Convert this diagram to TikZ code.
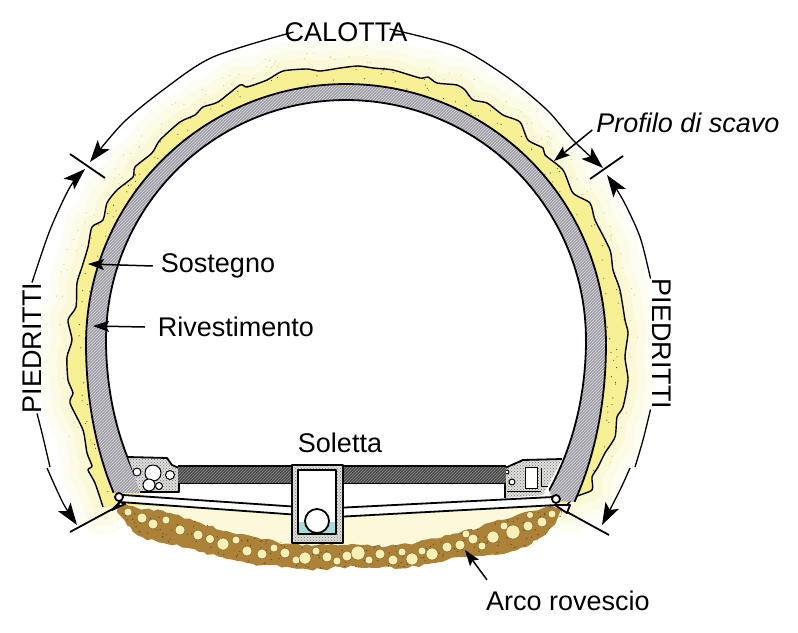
\documentclass[tikz,border=0pt]{standalone}
\usepackage{fontspec}
\setmainfont{Liberation Sans}
\usetikzlibrary{arrows.meta,patterns,decorations.pathmorphing}
\definecolor{haloYellow}{HTML}{F7F2A8}
\definecolor{paleYellow}{HTML}{FCF9DA}
\definecolor{liningYellow}{HTML}{F6EF94}
\definecolor{liningGrey}{HTML}{9F9DA6}
\definecolor{slabGrey}{HTML}{4A4A4A}
\definecolor{curbGrey}{HTML}{DEDEDA}
\definecolor{rockBrown}{HTML}{AC8238}
\definecolor{rockPale}{HTML}{F8EFB4}
\definecolor{waterBlue}{HTML}{A8DCD8}
\newcommand{\yellowEdge}{plot[smooth,tension=0.4] coordinates {(103,507) (95,483) (88,470) (92,466) (87,453) (83,430) (70,403) (73,393) (68,380) (67,357) (72,340) (68,320) (76,307) (77,283) (82,267) (88,247) (92,227) (103,220) (107,203) (117,190) (133,177) (135,167) (152,153) (160,140) (180,122) (195,115) (203,107) (218,102) (240,85) (247,87) (267,80) (283,71) (307,69) (320,71) (340,68) (358,66) (373,68) (393,70) (420,78) (428,77) (437,83) (457,85) (465,90) (473,100) (487,103) (503,115) (520,122) (528,140) (543,148) (545,155) (563,170) (573,193) (590,203) (595,220) (610,250) (613,270) (620,290) (625,320) (628,333) (625,357) (628,380) (623,407) (617,417) (615,437) (605,453) (598,467) (592,477) (592,490) (575,497) (567,505)}}
\newcommand{\greyEdge}{plot[smooth,domain=212.6:-34.6,samples=70] ({346+(260+55*min(sin(\x),0)*min(sin(\x),0))*cos(\x)},{344-(260+55*min(sin(\x),0)*min(sin(\x),0))*sin(\x)})}
\newcommand{\whiteEdge}{plot[smooth,domain=216:-38,samples=70] ({346+(240+36*min(sin(\x),0)*min(sin(\x),0))*cos(\x)},{340-(240+36*min(sin(\x),0)*min(sin(\x),0))*sin(\x)})}
\newcommand{\rockShape}{plot[smooth] coordinates {(118,505) (170,513) (233,533) (292,544) (343,545) (397,545) (450,535) (513,517) (547,507) (562,508)} -- plot[smooth] coordinates {(562,515) (547,533) (517,550) (463,557) (410,567) (340,567) (327,570) (247,563) (187,548) (143,537) (117,512)} -- cycle}
\begin{document}
\begin{tikzpicture}[x=1pt,y=-1pt,
    every node/.style={inner sep=0pt,font=\fontsize{27}{30}\selectfont},
    outline/.style={draw=black,line width=1.8pt,line join=round},
    dimline/.style={draw=black,line width=1.3pt,-{Stealth[length=22pt,width=15pt,inset=5pt]}},
    plainline/.style={draw=black,line width=1.3pt},
    bar/.style={draw=black,line width=1.8pt},
    leader/.style={draw=black,line width=1.5pt,-{Stealth[length=16pt,width=11pt,inset=3pt]}},
    halo/.style={draw=haloYellow,line join=round,line cap=round},
    hatch/.style={pattern=north east lines,pattern color=liningGrey!35!white},
    dotted fill/.style={pattern=crosshatch dots,pattern color=black!55}]
  \useasboundingbox (0,0) rectangle (798,632);
  \fill[white] (0,0) rectangle (798,632);

  \draw[halo,line width=56pt,opacity=.12] \yellowEdge;
  \draw[halo,line width=38pt,opacity=.18] \yellowEdge;
  \draw[halo,line width=20pt,opacity=.25] \yellowEdge;
  \pgfmathsetseed{11}
  \foreach \i in {1,...,170} {
    \pgfmathsetmacro\ang{rnd*230-25}
    \pgfmathsetmacro\rad{272+rnd*22}
    \fill[olive!70,opacity=.55] ({346+\rad*cos(\ang)},{340-\rad*sin(\ang)}) circle (0.6);
  }

  \fill[liningYellow] \yellowEdge -- cycle;
  \pgfmathsetseed{5}
  \begin{scope}
    \clip \yellowEdge -- cycle;
    \foreach \i in {1,...,260} {
      \pgfmathsetmacro\ang{rnd*250-35}
      \pgfmathsetmacro\rad{250+rnd*36}
      \fill[black!65!olive] ({346+\rad*cos(\ang)},{342-\rad*sin(\ang)}) circle (0.55);
    }
  \end{scope}
  \draw[outline,line width=1.4pt] \yellowEdge;

  \fill[liningGrey] \greyEdge -- cycle;
  \fill[hatch] \greyEdge -- cycle;
  \draw[outline] \greyEdge;
  \fill[white] \whiteEdge -- cycle;
  \draw[outline] \whiteEdge;

  \fill[white] (140,496) -- (142,486) -- (548,488) -- (553,500) -- (340,510) -- (300,510) -- cycle;
  \fill[paleYellow] (118,505) -- (300,512) -- (340,512) -- (562,503) -- (566,512) -- (513,522) -- (450,540) -- (343,548) -- (292,548) -- (233,538) -- (170,518) -- cycle;

  \fill[rockBrown,decorate,decoration={random steps,segment length=5pt,amplitude=1.6pt}] \rockShape;
  \pgfmathsetseed{3}
  \begin{scope}
    \clip \rockShape;
    \foreach \i in {1,...,500} {
      \pgfmathsetmacro\px{115+rnd*450}
      \pgfmathsetmacro\py{503+rnd*68}
      \fill[rockBrown!60!black] (\px,\py) circle (0.7);
    }
  \end{scope}
  \foreach \x/\y/\r in {128/512/4,142/518/5,153/524/5,166/520/4,180/530/5,198/535/5,210/539/4.5,223/544/6,236/540/4,247/551/5,262/554/5,274/548/4,285/553/5,296/560/4,305/558/6,316/551/4,327/557/5,337/561/4,347/556/5,358/553/7,369/560/4,380/554/5,393/560/5,402/552/4,412/559/6,422/551/4,432/554/6,447/547/5,460/545/5,466/534/4,473/539/5,482/546/4,493/537/6,504/526/4,513/532/7,528/526/5,530/515/3.5,542/522/5,552/514/4}
    \fill[rockPale,draw=rockBrown!70!black,line width=.4pt] (\x,\y) circle (\r);

  \fill[curbGrey] (128,457) -- (167,458) -- (172,465) -- (179,468) -- (179,492) -- (140,492) -- cycle;
  \fill[dotted fill] (128,457) -- (167,458) -- (172,465) -- (179,468) -- (179,492) -- (140,492) -- cycle;
  \draw[outline] (128,457) -- (167,458) -- (172,465) -- (179,468) -- (179,492) -- (140,492);
  \foreach \x/\y/\r in {153/473/8,149/485/6,159/486/3.5,137/472/4,170/475/4.5}
    \fill[white,outline,line width=1pt] (\x,\y) circle (\r);

  \fill[curbGrey] (505,468) -- (523,460) -- (562,459) -- (543,495) -- (505,498) -- cycle;
  \fill[dotted fill] (505,468) -- (523,460) -- (562,459) -- (543,495) -- (505,498) -- cycle;
  \draw[outline] (505,498) -- (505,468) -- (523,460) -- (562,459);
  \fill[white,outline,line width=1pt] (525,467) -- (537,467) -- (537,488) -- (525,488) -- cycle;
  \draw[outline,line width=1pt] (541,468) -- (541,486) -- (548,486);
  \draw[outline,line width=1pt] (507,491) -- (541,491);
  \fill[white,outline,line width=1pt] (512,482) circle (3);
  \fill[white,outline,line width=1pt] (507,472) circle (2);

  \fill[slabGrey] (178,466) rectangle (292,483);
  \fill[slabGrey] (343,466) rectangle (506,483);
  \fill[pattern=north east lines,pattern color=white!55!black] (178,466) rectangle (292,483);
  \fill[pattern=north east lines,pattern color=white!55!black] (343,466) rectangle (506,483);
  \draw[outline] (178,466) -- (292,466) (343,466) -- (506,466);
  \draw[outline,line width=1pt] (178,483) -- (292,483) (343,483) -- (506,483);

  \fill[white] (123,495) -- (300,507) -- (300,515) -- (120,502) -- cycle;
  \draw[outline] (123,495) -- (300,507) (300,515) -- (120,502);
  \fill[white] (335,508) -- (553,497) -- (557,505) -- (335,517) -- cycle;
  \draw[outline] (335,508) -- (553,497) (557,505) -- (335,517);
  \fill[white,outline] (119,497) circle (4);
  \fill[white,outline] (112,510) -- (120,502) -- (125,504) -- cycle;
  \fill[white,outline] (556,499) circle (4);
  \fill[white,outline] (555,505) -- (570,505) -- (567,513) -- cycle;

  \fill[curbGrey] (292,465) rectangle (343,543);
  \fill[dotted fill] (292,465) rectangle (343,543);
  \draw[outline,line width=1.4pt] (292,465) rectangle (343,543);
  \fill[white,outline] (298,470) rectangle (336,534);
  \fill[waterBlue] (299,522) rectangle (335,533);
  \fill[white,outline] (317,521) circle (12);

  \node (calotta) at (346,32) {CALOTTA};
  \node (piedrittiLeft) at (32,348) [rotate=90] {PIEDRITTI};
  \node (piedrittiRight) at (662,344) [rotate=-90] {PIEDRITTI};
  \node (profilo) at (688,123) {\itshape Profilo di scavo};
  \node (sostegno) at (218,266) {Sostegno};
  \node (rivestimento) at (236,327) {Rivestimento};
  \node (soletta) at (340,443) {Soletta};
  \node (arco) at (568,601) {Arco rovescio};

  \coordinate (barTLa) at (70,154);
  \coordinate (barTLb) at (105,178);
  \coordinate (barTRa) at (590,179);
  \coordinate (barTRb) at (623,156);
  \coordinate (barBLa) at (70,532);
  \coordinate (barBLb) at (120,505);
  \coordinate (barBRa) at (567,512);
  \coordinate (barBRb) at (609,535);
  \coordinate (tipTopLeft) at (90,162);
  \coordinate (tipTopRight) at (603,168);
  \coordinate (tipUpLeft) at (85,169);
  \coordinate (tipUpRight) at (607,175);
  \coordinate (tipDownLeft) at (77,525);
  \coordinate (tipDownRight) at (602,525);
  \coordinate (tipSostegno) at (88,264);
  \coordinate (tipRivestimento) at (93,326);
  \coordinate (tipProfilo) at (554,161);
  \coordinate (tipArco) at (465,550);
  \coordinate (breakLeft) at (50,467);
  \coordinate (breakLeftB) at (47,468);
  \coordinate (breakRight) at (635,467);
  \coordinate (breakRightB) at (630,468);

  \draw[bar] (barTLa) -- (barTLb);
  \draw[bar] (barTRa) -- (barTRb);
  \draw[bar] (barBLa) -- (barBLb);
  \draw[bar] (barBRa) -- (barBRb);

  \draw[dimline] plot[smooth] coordinates {([xshift=9pt]calotta.west) (213,57) (163,90) (123,123) (tipTopLeft)};
  \draw[dimline] plot[smooth] coordinates {([xshift=-18pt,yshift=3pt]calotta.east) (457,47) (507,77) (547,110) (573,140) (tipTopRight)};
  \draw[dimline] plot[smooth] coordinates {(piedrittiLeft.east) (50,230) (70,187) (tipUpLeft)};
  \draw[plainline] plot[smooth] coordinates {([xshift=5pt]piedrittiLeft.west) (42,433) (breakLeft)};
  \draw[dimline] plot[smooth] coordinates {(breakLeftB) (63,503) (tipDownLeft)};
  \draw[dimline] plot[smooth] coordinates {([xshift=-2pt]piedrittiRight.south west) (640,237) (623,200) (tipUpRight)};
  \draw[plainline] plot[smooth] coordinates {([xshift=-2pt]piedrittiRight.south east) (643,440) (breakRight)};
  \draw[dimline] plot[smooth] coordinates {(breakRightB) (620,490) (tipDownRight)};

  \draw[leader] ([xshift=-8pt]sostegno.west) -- (tipSostegno);
  \draw[leader] ([xshift=-13pt]rivestimento.west) -- (tipRivestimento);
  \draw[leader] ([shift={(-4,7)}]profilo.west) -- (tipProfilo);
  \draw[leader] ([shift={(1,-11)}]arco.north west) -- (tipArco);
\end{tikzpicture}
\end{document}
